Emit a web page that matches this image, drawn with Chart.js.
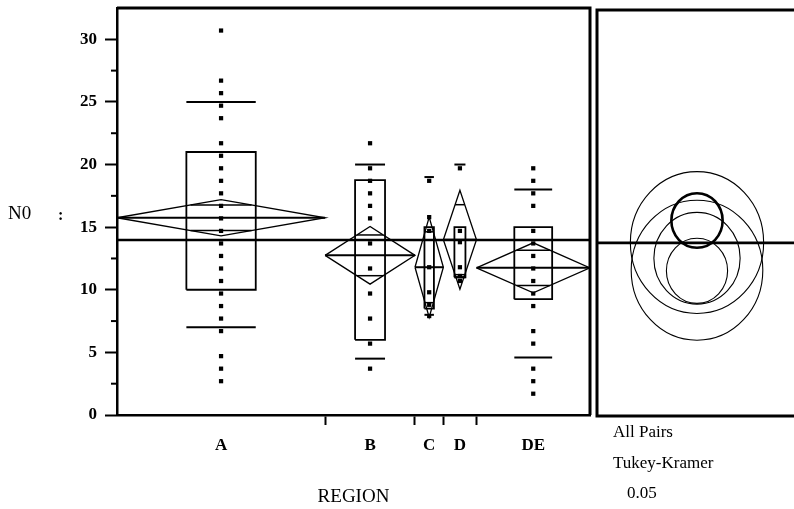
<!DOCTYPE html>
<html lang="en">
<head>
<meta charset="utf-8"/>
<title>N0 by REGION</title>
<script src="https://cdn.jsdelivr.net/npm/chart.js"></script>
<style>
    body { margin: 0; background: #fff; width: 794px; height: 509px; overflow: hidden; position: relative; font-family: "Liberation Serif", serif; }
    #main { position: absolute; left: 0; top: 0; }
    #circles { position: absolute; left: 590px; top: 0; }
    .note { position: absolute; font-size: 17px; color: #000; white-space: nowrap; }
</style>
</head>
<body>
<canvas id="main" width="596" height="509"></canvas>
<canvas id="circles" width="204" height="509"></canvas>
<div class="note" style="left:613px; top:422px">All Pairs</div>
<div class="note" style="left:613px; top:453px">Tukey-Kramer</div>
<div class="note" style="left:627px; top:483px">0.05</div>
<script>
// groups and their sizes (category width is proportional to n)
const regions = ['A', 'B', 'C', 'D', 'DE'];
const counts = [44, 19, 6, 7, 24];

const pointsA = [30.7, 26.7, 25.7, 24.7, 23.7, 21.7, 20.7, 19.7, 18.7, 17.7, 16.7, 15.7, 14.7, 13.7,
                 12.7, 11.7, 10.7, 9.7, 8.7, 7.7, 6.7, 4.7, 3.7, 2.7];
const pointsB = [21.7, 19.7, 18.7, 17.7, 16.7, 15.7, 13.7, 11.7, 9.7, 7.7, 5.7, 3.7];
const pointsC = [18.7, 15.8, 14.7, 11.8, 9.8, 8.8, 7.9];
const pointsD = [19.7, 14.7, 13.8, 11.8, 11.1, 10.7];
const pointsDE = [19.7, 18.7, 17.7, 16.7, 14.7, 13.7, 12.7, 11.7, 10.7, 9.7, 8.7, 6.7, 5.7, 3.7, 2.7, 1.7];

// box plot quantiles
const q1 = [10, 6, 8.5, 11, 9.25];
const q3 = [21, 18.75, 15, 15, 15];
const whiskerLow = [7, 4.5, 8, 11, 4.6];
const whiskerHigh = [25, 20, 19, 20, 18];

// means diamonds and comparison circles
const means = [15.75, 12.75, 11.8, 14.0, 11.75];
const ciHalf = [1.45, 2.3, 4.0, 3.95, 2.0];
const tukeyRadius = [2.17, 3.65, 5.57, 5.64, 2.59];
const grandMean = 13.97;

const yMajor = [0, 5, 10, 15, 20, 25, 30];
const yMinor = [2.5, 7.5, 12.5, 17.5, 22.5, 27.5];

const allPoints = [pointsA, pointsB, pointsC, pointsD, pointsDE];

// category bounds along the x axis
const lefts = [], rights = [], centers = [];
let acc = 0;
counts.forEach(n => { lefts.push(acc); acc += n; rights.push(acc); centers.push((lefts[lefts.length - 1] + acc) / 2); });
const total = acc;
const bounds = rights.slice(0, -1);

const serif = '"Liberation Serif", "Times New Roman", serif';

function seg(data, width) {
    return { data: data, showLine: true, borderColor: '#000', borderWidth: width, pointRadius: 0, fill: false, tension: 0 };
}

const datasets = [];
// grand mean
datasets.push(seg([{ x: 0, y: grandMean }, { x: total, y: grandMean }], 2.6));

regions.forEach((r, i) => {
    const c = centers[i], h = counts[i] / 6, L = lefts[i], R = rights[i];
    // box
    datasets.push(seg([{ x: c - h, y: q1[i] }, { x: c + h, y: q1[i] }, { x: c + h, y: q3[i] },
                       { x: c - h, y: q3[i] }, { x: c - h, y: q1[i] }], 1.8));
    // whiskers
    datasets.push(seg([{ x: c - h, y: whiskerHigh[i] }, { x: c + h, y: whiskerHigh[i] }], 2));
    datasets.push(seg([{ x: c - h, y: whiskerLow[i] }, { x: c + h, y: whiskerLow[i] }], 2));
    // diamond
    const m = means[i], ci = ciHalf[i];
    datasets.push(seg([{ x: L, y: m }, { x: c, y: m + ci }, { x: R, y: m }, { x: c, y: m - ci }, { x: L, y: m }], 1.3));
    datasets.push(seg([{ x: L, y: m }, { x: R, y: m }], 2));
    const off = ci / Math.SQRT2, hw = (R - L) / 2 * (1 - 1 / Math.SQRT2);
    datasets.push(seg([{ x: c - hw, y: m + off }, { x: c + hw, y: m + off }], 1.5));
    datasets.push(seg([{ x: c - hw, y: m - off }, { x: c + hw, y: m - off }], 1.5));
});

// observations
const dots = [];
allPoints.forEach((arr, i) => arr.forEach(v => dots.push({ x: centers[i], y: v })));
datasets.push({ data: dots, pointStyle: 'rect', pointRadius: 3, backgroundColor: '#000', borderWidth: 0 });

const frameMain = {
    id: 'frameMain',
    afterDraw(chart) {
        const { ctx, chartArea: a, scales } = chart;
        ctx.save();
        ctx.strokeStyle = '#000';
        ctx.lineWidth = 3;
        ctx.beginPath();
        ctx.moveTo(a.left, a.top); ctx.lineTo(a.right, a.top); ctx.lineTo(a.right, a.bottom);
        ctx.stroke();
        // minor ticks on the y axis
        ctx.lineWidth = 2;
        yMinor.forEach(v => {
            const y = scales.y.getPixelForValue(v);
            ctx.beginPath(); ctx.moveTo(a.left, y); ctx.lineTo(a.left - 6, y); ctx.stroke();
        });
        // y label, written horizontally
        ctx.fillStyle = '#000';
        ctx.textBaseline = 'middle';
        ctx.font = '19px ' + serif;
        ctx.fillText('N0', 8, 214);
        ctx.font = 'bold 16px ' + serif;
        ctx.fillText(':', 58, 216);
        ctx.restore();
    }
};

new Chart(document.getElementById('main'), {
    type: 'scatter',
    data: { datasets: datasets },
    options: {
        responsive: false,
        animation: false,
        layout: { padding: { left: 0, right: 6, top: 8, bottom: 0 } },
        plugins: { legend: { display: false }, tooltip: { enabled: false } },
        scales: {
            x: {
                type: 'linear', min: 0, max: total,
                afterBuildTicks: s => { s.ticks = [...centers, ...bounds].sort((a, b) => a - b).map(v => ({ value: v })); },
                afterFit: s => { s.height = 94; s.paddingLeft = 0; s.paddingRight = 0; },
                grid: {
                    drawOnChartArea: false, tickLength: 10, tickWidth: 2,
                    tickColor: ctx => bounds.includes(ctx.tick && ctx.tick.value) ? '#000' : 'rgba(0,0,0,0)'
                },
                border: { color: '#000', width: 2.5 },
                ticks: {
                    autoSkip: false, maxRotation: 0, padding: 10, color: '#000',
                    font: { family: serif, size: 17, weight: 'bold' },
                    callback: v => { const k = centers.indexOf(v); return k >= 0 ? regions[k] : ''; }
                },
                title: { display: true, text: 'REGION', color: '#000', font: { family: serif, size: 19 }, padding: { top: 0, bottom: 1 } }
            },
            y: {
                min: 0, max: 32.5,
                afterBuildTicks: s => { s.ticks = yMajor.map(v => ({ value: v })); },
                afterFit: s => { s.width = 117; s.paddingTop = 0; s.paddingBottom = 0; },
                grid: { drawOnChartArea: false, tickLength: 12, tickWidth: 2, tickColor: '#000' },
                border: { color: '#000', width: 2.5 },
                ticks: { padding: 8, color: '#000', font: { family: serif, size: 17, weight: 'bold' } }
            }
        }
    },
    plugins: [frameMain]
});

// comparison circles panel: one circle per region, centred on its mean
const circlesPlugin = {
    id: 'circlesPlugin',
    afterDatasetsDraw(chart) {
        const { ctx, scales: { x, y } } = chart;
        ctx.save();
        ctx.strokeStyle = '#000';
        means.forEach((m, i) => {
            const cx = x.getPixelForValue(0), cy = y.getPixelForValue(m);
            const ry = y.getPixelForValue(0) - y.getPixelForValue(tukeyRadius[i]);
            ctx.lineWidth = i === 0 ? 2.6 : 1.1;
            ctx.beginPath();
            ctx.ellipse(cx, cy, ry * 0.94, ry, 0, 0, Math.PI * 2);
            ctx.stroke();
        });
        ctx.restore();
    },
    afterDraw(chart) {
        const { ctx, chartArea: a } = chart;
        ctx.save();
        ctx.strokeStyle = '#000';
        ctx.lineWidth = 3;
        ctx.beginPath();
        ctx.moveTo(a.right + 5, a.top); ctx.lineTo(a.left, a.top); ctx.lineTo(a.left, a.bottom); ctx.lineTo(a.right + 5, a.bottom);
        ctx.stroke();
        ctx.restore();
    }
};

new Chart(document.getElementById('circles'), {
    type: 'scatter',
    data: { datasets: [seg([{ x: -1, y: grandMean }, { x: 0.97, y: grandMean }], 2.6)] },
    options: {
        responsive: false,
        animation: false,
        layout: { padding: { left: 7, right: 0, top: 10, bottom: 93 } },
        plugins: { legend: { display: false }, tooltip: { enabled: false } },
        scales: {
            x: { type: 'linear', min: -1, max: 0.97, display: false },
            y: { min: 0.2, max: 32.5, display: false }
        }
    },
    plugins: [circlesPlugin]
});
</script>
</body>
</html>
